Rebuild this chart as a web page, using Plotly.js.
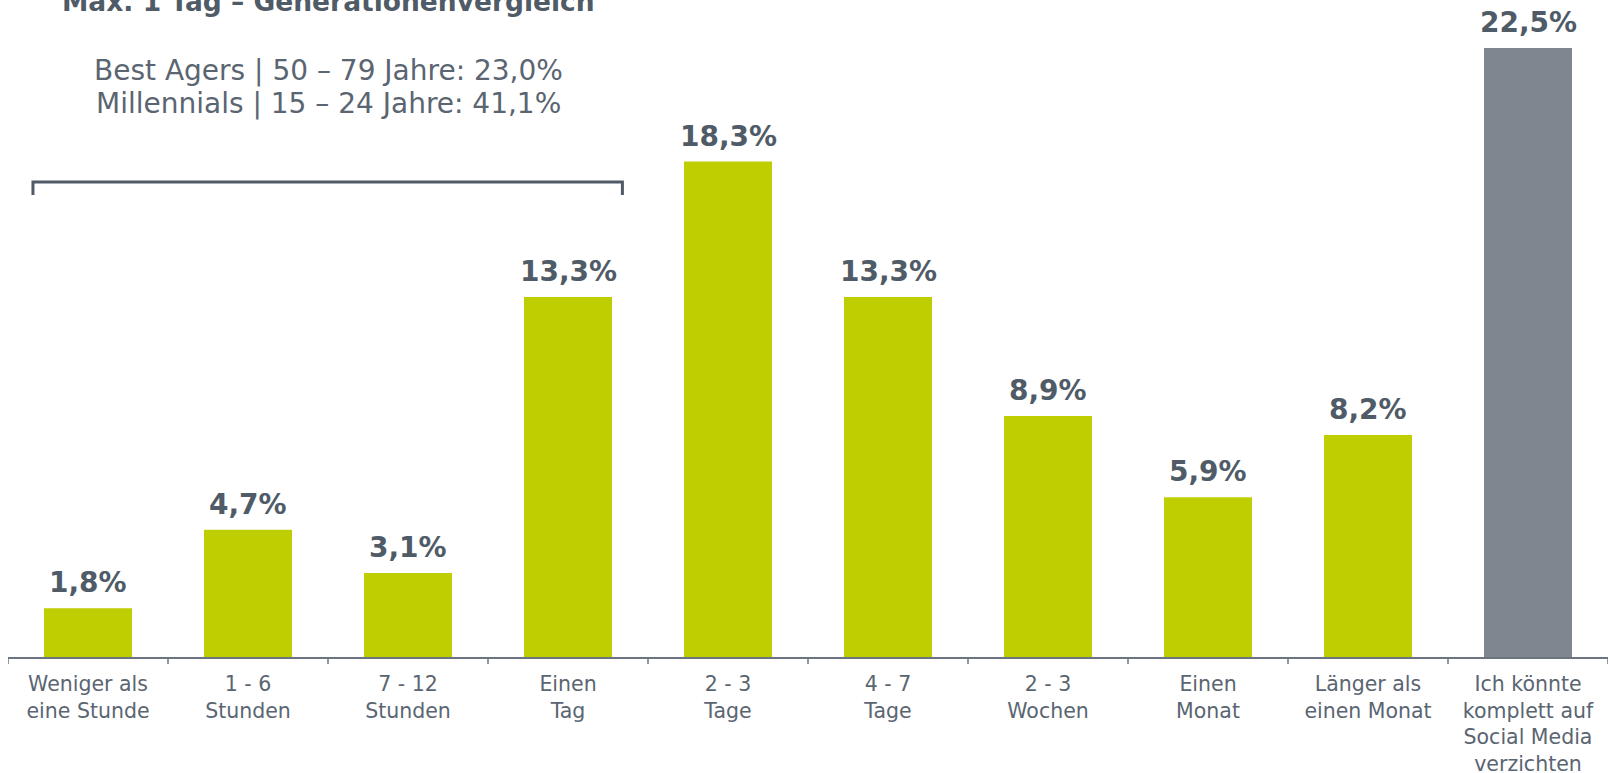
<!DOCTYPE html>
<html>
<head>
<meta charset="utf-8">
<script src="https://cdn.plot.ly/plotly-3.0.1.min.js"></script>
<style>
html,body{margin:0;padding:0;background:#fff;}
#chart{width:1610px;height:773px;}
</style>
</head>
<body>
<div id="chart"></div>
<script>
// ---- data ----
const categories = [
  "Weniger als<br>eine Stunde",
  "1 - 6<br>Stunden",
  "7 - 12<br>Stunden",
  "Einen<br>Tag",
  "2 - 3<br>Tage",
  "4 - 7<br>Tage",
  "2 - 3<br>Wochen",
  "Einen<br>Monat",
  "Länger als<br>einen Monat",
  "Ich könnte<br>komplett auf<br>Social Media<br>verzichten"
];
const values = [1.8, 4.7, 3.1, 13.3, 18.3, 13.3, 8.9, 5.9, 8.2, 22.5];
const titleText = "Max. 1 Tag – Generationenvergleich";
const subtitleLines = [
  "Best Agers | 50 – 79 Jahre: 23,0%",
  "Millennials | 15 – 24 Jahre: 41,1%"
];

// ---- styles ----
const GREEN = "#bfce00";
const GRAY = "#7f868f";
const DARK = "#4f5b67";
const TEXT = "#5a6571";
const AXIS = "#6b7580";
const barColors = values.map((v, i) => i === values.length - 1 ? GRAY : GREEN);
const xIdx = categories.map((c, i) => i);

const fmt = v => v.toFixed(1).replace('.', ',') + '%';

const annotations = values.map((v, i) => ({
  x: i, y: v, xref: 'x', yref: 'y',
  text: '<b>' + fmt(v) + '</b>',
  showarrow: false, yanchor: 'bottom', xanchor: 'center', yshift: 7,
  font: {family: 'DejaVu Sans', size: 28, color: DARK}
}));

annotations.push({
  xref: 'paper', yref: 'paper', x: 0.2, y: 1.0, yanchor: 'middle', xanchor: 'center',
  yshift: -1,
  text: '<b>' + titleText + '</b>', showarrow: false,
  font: {family: 'DejaVu Sans', size: 26.5, color: DARK}
});
subtitleLines.forEach((t, k) => {
  annotations.push({
    xref: 'paper', yref: 'paper', x: 0.2, y: [0.893, 0.8425][k], yanchor: 'middle', xanchor: 'center',
    text: t, showarrow: false,
    font: {family: 'DejaVu Sans', size: 28, color: TEXT}
  });
});

const trace = {
  type: 'bar',
  x: xIdx,
  y: values,
  marker: {color: barColors},
  hoverinfo: 'skip'
};

const shapes = [
  // bracket over first four categories
  {
    type: 'path', xref: 'x', yref: 'y',
    path: 'M -0.344 17.07 L -0.344 17.55 L 3.34 17.55 L 3.34 17.07',
    line: {color: DARK, width: 3}
  }
];
// boundary tick marks under the axis (pixel-sized)
for (let i = 0; i <= categories.length; i++) {
  shapes.push({
    type: 'line', xref: 'x', yref: 'paper',
    x0: i - 0.5, x1: i - 0.5,
    ysizemode: 'pixel', yanchor: 0, y0: 0, y1: -7,
    line: {color: AXIS, width: 1.5}
  });
}

const layout = {
  width: 1610, height: 773,
  margin: {l: 8, r: 2, t: 0, b: 116},
  paper_bgcolor: '#ffffff', plot_bgcolor: '#ffffff',
  bargap: 0.45,
  showlegend: false,
  xaxis: {
    type: 'linear',
    range: [-0.5, 9.5],
    tickmode: 'array',
    tickvals: xIdx,
    ticktext: categories,
    ticks: '',
    ticklabelstandoff: 8,
    showline: true, linecolor: AXIS, linewidth: 1.5,
    showgrid: false, zeroline: false,
    tickfont: {family: 'DejaVu Sans', size: 20.5, color: TEXT},
    fixedrange: true
  },
  yaxis: {
    range: [0, 24.27],
    visible: false, showgrid: false, zeroline: false,
    fixedrange: true
  },
  annotations: annotations,
  shapes: shapes
};

Plotly.newPlot('chart', [trace], layout, {displayModeBar: false, staticPlot: true});
</script>
</body>
</html>
